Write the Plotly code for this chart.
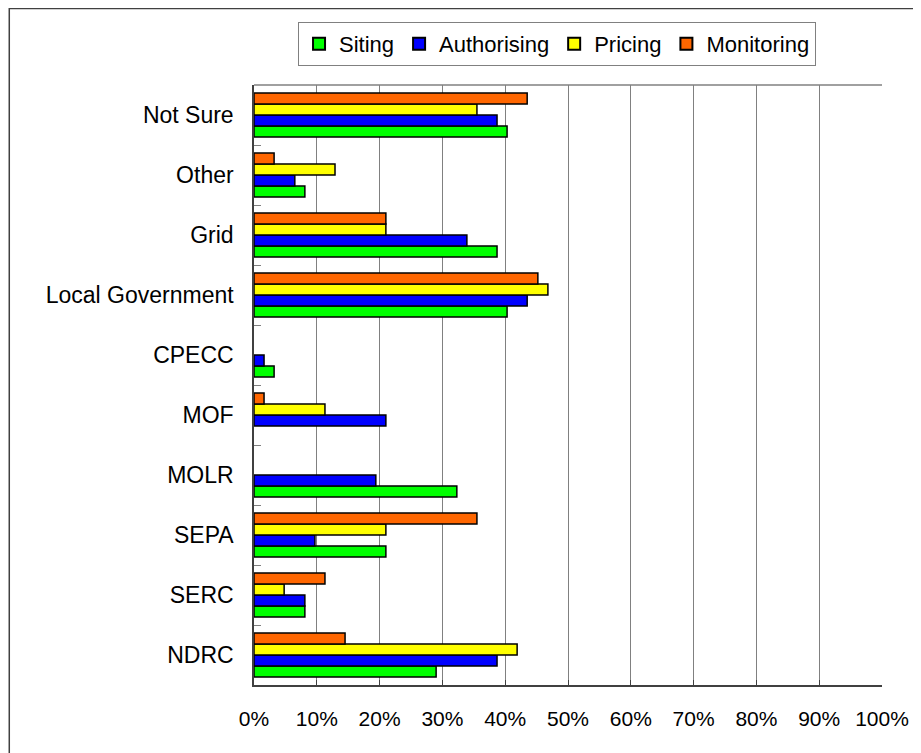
import plotly.graph_objects as go

categories = ["NDRC", "SERC", "SEPA", "MOLR", "MOF", "CPECC",
              "Local Government", "Grid", "Other", "Not Sure"]
siting = [29.0, 8.1, 21.0, 32.3, 0.0, 3.2, 40.3, 38.7, 8.1, 40.3]
authorising = [38.7, 8.1, 9.7, 19.4, 21.0, 1.6, 43.5, 33.9, 6.5, 38.7]
pricing = [41.9, 4.8, 21.0, 0.0, 11.3, 0.0, 46.8, 21.0, 12.9, 35.5]
monitoring = [14.5, 11.3, 35.5, 0.0, 1.6, 0.0, 45.2, 21.0, 3.2, 43.5]
x_ticks = list(range(0, 101, 10))
x_tick_labels = [f"{v}%" for v in x_ticks]

series = [("Siting", siting, "#00ff00"),
          ("Authorising", authorising, "#0000ff"),
          ("Pricing", pricing, "#ffff00"),
          ("Monitoring", monitoring, "#ff6600")]

fig = go.Figure()
for name, vals, color in series:
    # zero-valued bars are not drawn in the original (no outline stub)
    shown = [v if v > 0 else None for v in vals]
    fig.add_trace(go.Bar(
        y=categories, x=shown, name=name, orientation="h",
        marker=dict(color=color, line=dict(color="black", width=1.5)),
    ))

# page has an 8px body offset
OFF = 8
W, H = 921 - OFF, 753 - OFF
L, T = 254 - OFF, 85 - OFF
pw, ph = 630, 600
R, B = W - L - pw, H - T - ph

def px(xp):
    return (xp - OFF - L) / pw

def py(yp):
    return (T + ph - (yp - OFF)) / ph

fig.update_layout(
    width=W, height=H,
    margin=dict(l=L, r=R, t=T, b=B, pad=0),
    paper_bgcolor="white", plot_bgcolor="white",
    barmode="group", bargap=0.27, bargroupgap=0,
    font=dict(family="Liberation Sans, Arial, sans-serif", size=23, color="black"),
    legend=dict(orientation="h", x=px(558), y=py(22), xanchor="center", yanchor="top",
                bordercolor="#808080", borderwidth=1, bgcolor="white",
                font=dict(size=22), traceorder="normal", itemwidth=30,
                itemsizing="constant", tracegroupgap=0),
    xaxis=dict(range=[0, 100], tickvals=x_ticks, ticktext=x_tick_labels,
               showgrid=True, gridcolor="#808080", gridwidth=1,
               showline=True, linecolor="#404040", linewidth=1.5,
               ticks="inside", ticklen=5, tickcolor="#404040",
               tickfont=dict(size=21, family="Liberation Sans Narrow, Liberation Sans, Arial"),
               ticklabelstandoff=14, zeroline=False, fixedrange=True),
    yaxis=dict(type="category", categoryorder="array", categoryarray=categories,
               showline=True, linecolor="#404040", linewidth=1.5,
               ticks="inside", tickson="boundaries", ticklen=7, tickcolor="#808080",
               showgrid=False, tickfont=dict(size=23), ticklabelstandoff=14,
               fixedrange=True),
    showlegend=True,
)

# plot frame top edge
fig.add_shape(type="line", xref="paper", yref="paper", x0=0, x1=1, y0=1, y1=1,
              line=dict(color="#808080", width=1.5))
# outer chart border
fig.add_shape(type="rect", xref="paper", yref="paper",
              x0=px(8.5), x1=px(960), y0=py(800), y1=py(8.5),
              line=dict(color="#404040", width=1.5))

fig.write_html("out.html")
